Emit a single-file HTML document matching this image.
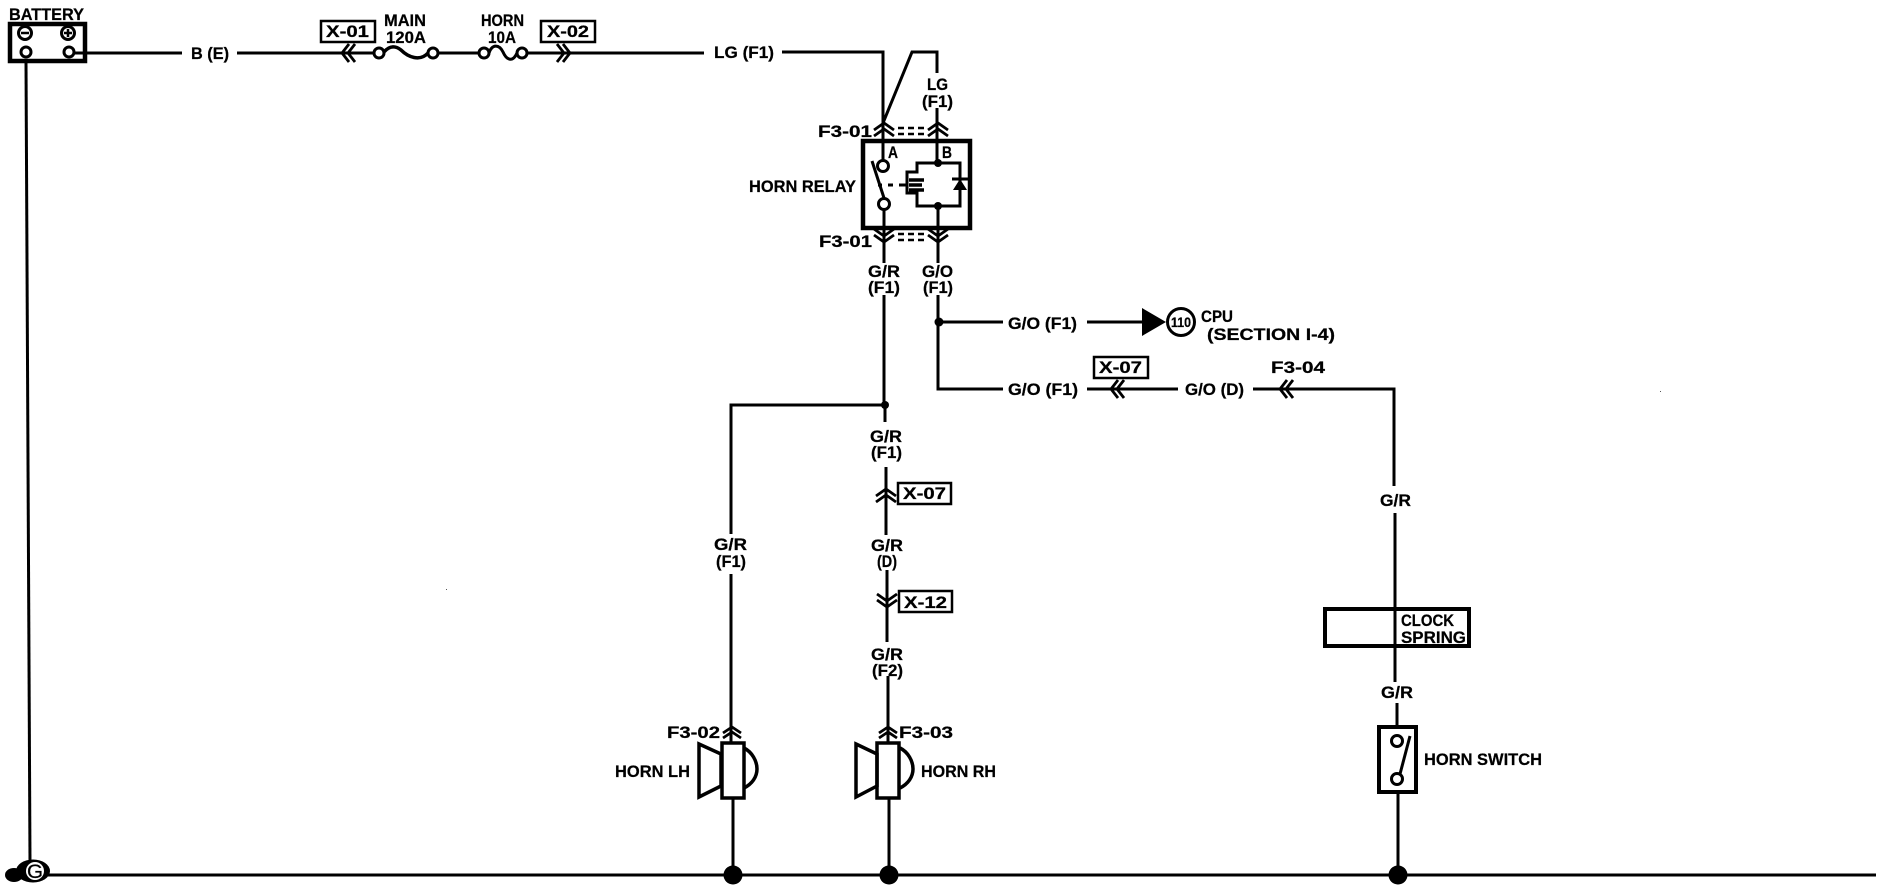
<!DOCTYPE html>
<html><head><meta charset="utf-8"><title>Horn circuit</title>
<style>
html,body{margin:0;padding:0;background:#fff;width:1882px;height:896px;overflow:hidden}
svg{display:block}
text{font-family:"Liberation Sans","DejaVu Sans",sans-serif;font-weight:700;font-size:17px;fill:#000;stroke:#000;stroke-width:.25}
.w{fill:none;stroke:#000;stroke-width:3}
.t{fill:none;stroke:#000;stroke-width:2.5}
.b{fill:none;stroke:#000;stroke-width:4.5}
.c{fill:none;stroke:#000;stroke-width:2.8}
.n{fill:#fff;stroke:#000;stroke-width:3}
.d{fill:#000}
</style></head><body>
<svg width="1882" height="896" viewBox="0 0 1882 896" xmlns="http://www.w3.org/2000/svg">
<rect width="1882" height="896" fill="#fff"/>

<!-- Ground bus and battery -->
<path class="w" d="M45 875H1876"/>
<path class="w" d="M26 62L30 862"/>
<rect class="b" x="10" y="24" width="75" height="37"/>
<circle class="n" cx="25" cy="33" r="6.5"/><path class="t" d="M21 33H29"/>
<circle class="n" cx="68" cy="33" r="6.5"/><path class="t" d="M64 33H72M68 29V37"/>
<circle class="n" cx="26" cy="52" r="5"/><circle class="n" cx="69" cy="52" r="5"/>
<text x="9" y="20" textLength="75" lengthAdjust="spacingAndGlyphs">BATTERY</text>

<!-- Ground symbol -->
<ellipse class="d" cx="33" cy="871" rx="17" ry="11.5"/>
<ellipse class="d" cx="14" cy="875" rx="9" ry="7"/>
<circle cx="35" cy="871" r="9" fill="#fff"/>
<text x="27" y="878" textLength="16" lengthAdjust="spacingAndGlyphs" style="font-weight:400;font-size:19px">G</text>

<!-- Top run -->
<path class="w" d="M74 53H182M237 53H374M438 53H479M527 53H704M782 52H883V166M883 123L912 52H937V73M937 108V163"/>
<text x="191" y="59" textLength="38" lengthAdjust="spacingAndGlyphs">B (E)</text>
<rect class="t" x="321" y="21" width="54" height="21"/>
<text x="326" y="37" textLength="43" lengthAdjust="spacingAndGlyphs">X-01</text>
<path class="c" transform="translate(347,53) rotate(-90)" d="M-9 2L0-5L9 2M-9 8L0 1L9 8"/>
<text x="384" y="26" textLength="42" lengthAdjust="spacingAndGlyphs">MAIN</text>
<text x="386" y="43" textLength="40" lengthAdjust="spacingAndGlyphs">120A</text>
<circle class="n" cx="379" cy="53" r="5"/><circle class="n" cx="433" cy="53" r="5"/>
<path class="w" style="stroke-width:3.5" d="M384 52C390 45 396 46 401 50C408 57 420 62 428 53"/>
<text x="481" y="26" textLength="43" lengthAdjust="spacingAndGlyphs">HORN</text>
<text x="488" y="43" textLength="28" lengthAdjust="spacingAndGlyphs">10A</text>
<circle class="n" cx="484" cy="53" r="5"/><circle class="n" cx="522" cy="53" r="5"/>
<path class="w" d="M489 53C492 44 499 44 503 52C507 61 513 62 517 53"/>
<rect class="t" x="541" y="21" width="54" height="21"/>
<text x="547" y="37" textLength="42" lengthAdjust="spacingAndGlyphs">X-02</text>
<path class="c" transform="translate(565,53) rotate(90)" d="M-9 2L0-5L9 2M-9 8L0 1L9 8"/>
<text x="714" y="58" textLength="60" lengthAdjust="spacingAndGlyphs">LG (F1)</text>

<text x="927" y="90" textLength="21" lengthAdjust="spacingAndGlyphs">LG</text>
<text x="922" y="107" textLength="31" lengthAdjust="spacingAndGlyphs">(F1)</text>

<!-- Relay -->
<text x="818" y="137" textLength="54" lengthAdjust="spacingAndGlyphs">F3-01</text>
<path class="c" transform="translate(884,128)" d="M-10 2L0-5L10 2M-10 8L0 1L10 8"/>
<path class="c" transform="translate(938,128)" d="M-10 2L0-5L10 2M-10 8L0 1L10 8"/>
<path class="t" stroke-dasharray="6 4" d="M898 128H925M898 134H925"/>
<rect class="b" x="863" y="141" width="107" height="87"/>
<text x="888" y="158" textLength="10" lengthAdjust="spacingAndGlyphs">A</text>
<text x="942" y="158" textLength="10" lengthAdjust="spacingAndGlyphs">B</text>
<text x="749" y="192" textLength="107" lengthAdjust="spacingAndGlyphs">HORN RELAY</text>
<path class="w" d="M872 161L884 198"/>
<circle class="n" cx="883" cy="166" r="5.5"/><circle class="n" cx="884" cy="204" r="5.5"/>
<path class="w" d="M878 185H882M888 185H893M899 185H907"/>
<path class="w" d="M917 172V163H960V206H917V193H907V172Z"/>
<path d="M909 180H924M909 185H922M909 190H924" fill="none" stroke="#000" stroke-width="3.5"/>
<path class="d" d="M953 190H967L960 179Z"/>
<path class="w" d="M952 179H968"/>
<circle class="d" cx="938" cy="163" r="4"/><circle class="d" cx="938" cy="206" r="4"/>
<path class="w" d="M884 210V263M938 206V263"/>
<text x="819" y="247" textLength="53" lengthAdjust="spacingAndGlyphs">F3-01</text>
<path class="c" transform="translate(884,237) rotate(180)" d="M-10 2L0-5L10 2M-10 8L0 1L10 8"/>
<path class="c" transform="translate(938,237) rotate(180)" d="M-10 2L0-5L10 2M-10 8L0 1L10 8"/>
<path class="t" stroke-dasharray="6 4" d="M898 234H925M898 240H925"/>
<text x="868" y="277" textLength="32" lengthAdjust="spacingAndGlyphs">G/R</text>
<text x="868" y="293" textLength="32" lengthAdjust="spacingAndGlyphs">(F1)</text>
<text x="922" y="277" textLength="31" lengthAdjust="spacingAndGlyphs">G/O</text>
<text x="923" y="293" textLength="30" lengthAdjust="spacingAndGlyphs">(F1)</text>

<!-- G/O branches -->
<path class="w" d="M938 295V389H1003M1087 389H1178M1253 389H1394V486M939 322H1003M1087 322H1143"/>
<circle class="d" cx="939" cy="322" r="4.5"/>
<text x="1008" y="329" textLength="69" lengthAdjust="spacingAndGlyphs">G/O (F1)</text>
<path class="d" d="M1142 308L1166 322L1142 336Z"/>
<circle cx="1181" cy="322" r="13.5" fill="#fff" stroke="#000" stroke-width="3"/>
<text x="1171" y="327" textLength="20" lengthAdjust="spacingAndGlyphs" style="font-size:14px">110</text>
<text x="1201" y="322" textLength="32" lengthAdjust="spacingAndGlyphs">CPU</text>
<text x="1207" y="340" textLength="128" lengthAdjust="spacingAndGlyphs">(SECTION I-4)</text>
<rect class="t" x="1094" y="357" width="54" height="21"/>
<text x="1099" y="373" textLength="43" lengthAdjust="spacingAndGlyphs">X-07</text>
<text x="1008" y="395" textLength="70" lengthAdjust="spacingAndGlyphs">G/O (F1)</text>
<path class="c" transform="translate(1116,389) rotate(-90)" d="M-9 2L0-5L9 2M-9 8L0 1L9 8"/>
<text x="1185" y="395" textLength="59" lengthAdjust="spacingAndGlyphs">G/O (D)</text>
<path class="c" transform="translate(1285,389) rotate(-90)" d="M-9 2L0-5L9 2M-9 8L0 1L9 8"/>
<text x="1271" y="373" textLength="54" lengthAdjust="spacingAndGlyphs">F3-04</text>

<!-- Right column -->
<text x="1380" y="506" textLength="31" lengthAdjust="spacingAndGlyphs">G/R</text>
<path class="w" d="M1395 513V682M1397 703V727M1398 793V875"/>
<rect x="1325" y="609" width="144" height="37" fill="none" stroke="#000" stroke-width="4"/>
<text x="1401" y="626" textLength="53" lengthAdjust="spacingAndGlyphs">CLOCK</text>
<text x="1401" y="643" textLength="65" lengthAdjust="spacingAndGlyphs">SPRING</text>
<text x="1381" y="698" textLength="32" lengthAdjust="spacingAndGlyphs">G/R</text>
<rect x="1379" y="727" width="37" height="65" fill="none" stroke="#000" stroke-width="4"/>
<path class="w" d="M1410 736L1400 774"/>
<circle class="n" cx="1397" cy="741" r="5.5"/><circle class="n" cx="1397" cy="779" r="5.5"/>
<text x="1424" y="765" textLength="118" lengthAdjust="spacingAndGlyphs">HORN SWITCH</text>
<circle class="d" cx="1398" cy="875" r="9.5"/>

<!-- G/R branches -->
<path class="w" d="M884 295V405H731V534M731 574V742M733 798V875M885 405V422M886 467V535M887 570V642M888 676V742M889 798V875"/>
<circle class="d" cx="885" cy="405" r="4"/>
<text x="714" y="550" textLength="33" lengthAdjust="spacingAndGlyphs">G/R</text>
<text x="716" y="567" textLength="30" lengthAdjust="spacingAndGlyphs">(F1)</text>
<text x="870" y="442" textLength="32" lengthAdjust="spacingAndGlyphs">G/R</text>
<text x="871" y="458" textLength="31" lengthAdjust="spacingAndGlyphs">(F1)</text>
<path class="c" transform="translate(886,494)" d="M-10 2L0-5L10 2M-10 8L0 1L10 8"/>
<rect class="t" x="898" y="483" width="53" height="21"/>
<text x="903" y="499" textLength="43" lengthAdjust="spacingAndGlyphs">X-07</text>
<text x="871" y="551" textLength="32" lengthAdjust="spacingAndGlyphs">G/R</text>
<text x="877" y="567" textLength="20" lengthAdjust="spacingAndGlyphs">(D)</text>
<path class="c" transform="translate(887,602) rotate(180)" d="M-10 2L0-5L10 2M-10 8L0 1L10 8"/>
<rect class="t" x="899" y="591" width="53" height="21"/>
<text x="904" y="608" textLength="43" lengthAdjust="spacingAndGlyphs">X-12</text>
<text x="871" y="660" textLength="32" lengthAdjust="spacingAndGlyphs">G/R</text>
<text x="872" y="676" textLength="31" lengthAdjust="spacingAndGlyphs">(F2)</text>

<!-- Horn LH -->
<text x="667" y="738" textLength="53" lengthAdjust="spacingAndGlyphs">F3-02</text>
<path class="c" transform="translate(732,732)" d="M-9 1L0-5L9 1M-9 6L0 0L9 6"/>
<rect x="722" y="743" width="22" height="55" fill="#fff" stroke="#000" stroke-width="3.5"/>
<path d="M699 744L721 754V786L699 797Z" fill="none" stroke="#000" stroke-width="3.5"/>
<path d="M744 748C752 752 757 761 757 769C757 777 752 784 744 788" fill="none" stroke="#000" stroke-width="3.5"/>
<text x="615" y="777" textLength="75" lengthAdjust="spacingAndGlyphs">HORN LH</text>
<circle class="d" cx="733" cy="875" r="9.5"/>

<!-- Horn RH -->
<text x="899" y="738" textLength="54" lengthAdjust="spacingAndGlyphs">F3-03</text>
<path class="c" transform="translate(888,732)" d="M-9 1L0-5L9 1M-9 6L0 0L9 6"/>
<rect x="877" y="743" width="22" height="55" fill="#fff" stroke="#000" stroke-width="3.5"/>
<path d="M856 744L877 754V786L856 797Z" fill="none" stroke="#000" stroke-width="3.5"/>
<path d="M900 748C908 752 913 761 913 769C913 777 908 784 900 788" fill="none" stroke="#000" stroke-width="3.5"/>
<text x="921" y="777" textLength="75" lengthAdjust="spacingAndGlyphs">HORN RH</text>
<circle class="d" cx="889" cy="875" r="9.5"/>

<!-- Specks -->
<rect x="446" y="589" width="1" height="1" fill="#555"/>
<rect x="1660" y="391" width="1" height="1" fill="#555"/>
</svg>
</body></html>
